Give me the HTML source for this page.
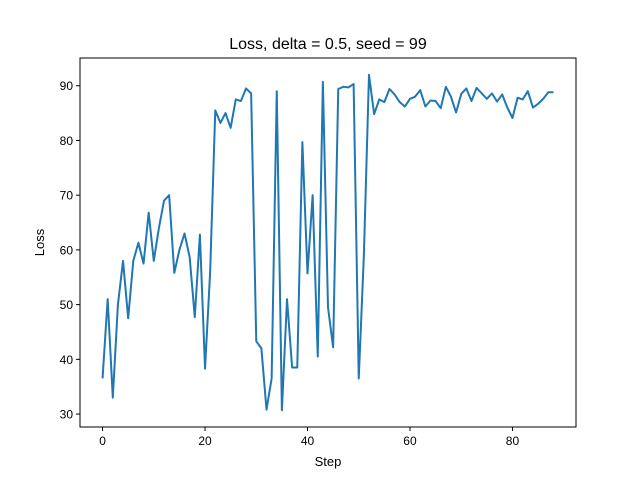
<!DOCTYPE html>
<html><head><meta charset="utf-8"><style>body{margin:0;background:#fff}svg{display:block;font-family:"Liberation Sans","DejaVu Sans",sans-serif}</style></head>
<body>
<svg id="chart" width="640" height="480" xmlns="http://www.w3.org/2000/svg">
<rect width="640" height="480" fill="#fff"/>
<text x="328" y="49" text-anchor="middle" font-size="16">Loss, delta = 0.5, seed = 99</text>
<g id="plot"></g>
<rect x="80" y="58" width="496" height="369" fill="none" stroke="#000" stroke-width="1"/>
<text x="328" y="466" text-anchor="middle" font-size="13">Step</text>
<text x="0" y="0" transform="translate(44,242.5) rotate(-90)" text-anchor="middle" font-size="13">Loss</text>
</svg>
<script>
const lossValues=[36.5,51,33,50,58,47.5,58,61.3,57.5,66.8,58,64,69,70,55.8,60,63,58.7,47.7,62.8,38.3,56,85.5,83.2,85,82.3,87.5,87.2,89.5,88.6,43.3,42,30.8,36.5,89,30.7,51,38.5,38.5,79.7,55.7,70,40.5,90.7,49.5,42.2,89.4,89.8,89.7,90.3,36.5,59,92,84.8,87.5,87,89.4,88.4,87,86.2,87.6,88,89.2,86.2,87.3,87.2,85.9,89.8,88,85.1,88.5,89.5,87.2,89.6,88.6,87.6,88.6,87.1,88.4,86,84.1,87.8,87.5,89,86,86.7,87.6,88.8,88.8];
const xTicks=[0,20,40,60,80];
const yTicks=[30,40,50,60,70,80,90];
const NS="http://www.w3.org/2000/svg";
const L=80,R=576,T=58,B=427;
const n=lossValues.length-1;
const xmin=-n*0.05,xmax=n*1.05;
const ymn=Math.min(...lossValues),ymx=Math.max(...lossValues),yr=ymx-ymn;
const ymin=ymn-0.05*yr,ymax=ymx+0.05*yr;
const sx=v=>L+(v-xmin)/(xmax-xmin)*(R-L);
const sy=v=>B-(v-ymin)/(ymax-ymin)*(B-T);
const g=document.getElementById('plot');
function mk(t,a){const e=document.createElementNS(NS,t);for(const k in a)e.setAttribute(k,a[k]);g.appendChild(e);return e;}
xTicks.forEach(t=>{
 const l=mk('line',{x1:sx(t),x2:sx(t),y1:B,y2:B+4,stroke:'#000'});
 
 
 const tx=mk('text',{x:sx(t),y:B+18,'text-anchor':'middle','font-size':'12'});
 tx.textContent=t;
 
 
});
yTicks.forEach(t=>{
 const l=mk('line',{x1:L-4,x2:L,y1:sy(t),y2:sy(t),stroke:'#000'});
 
 
 const tx=mk('text',{x:L-7,y:sy(t)+4.5,'text-anchor':'end','font-size':'12'});
 tx.textContent=t;
 
 
});
const p=mk('polyline',{points:lossValues.map((v,i)=>sx(i)+','+sy(v)).join(' '),fill:'none',stroke:'#1f77b4','stroke-width':'2','stroke-linejoin':'round'});


</script>
</body></html>
